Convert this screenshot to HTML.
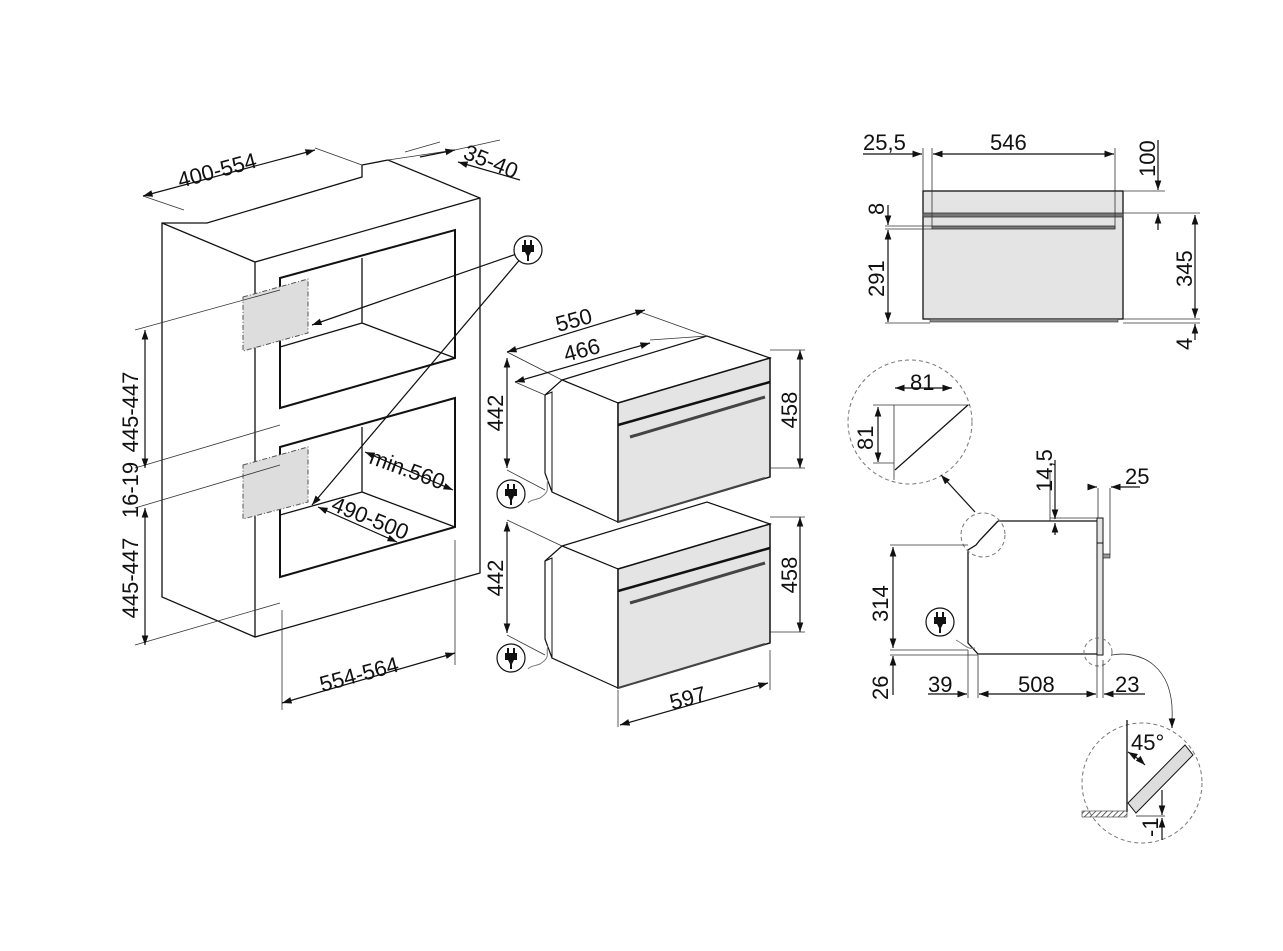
<!DOCTYPE html>
<html><head><meta charset="utf-8"><style>
html,body{margin:0;padding:0;background:#fff;}
svg{display:block;}
text{font-family:"Liberation Sans",sans-serif;font-size:22px;fill:#111;}
</style></head><body>
<svg width="1283" height="951" viewBox="0 0 1283 951" xmlns="http://www.w3.org/2000/svg">
<defs>
<marker id="a" viewBox="0 0 10 10" refX="10" refY="5" markerWidth="8" markerHeight="8" orient="auto-start-reverse"><path d="M0,1.5 L10,5 L0,8.5 z" fill="#111"/></marker>
<pattern id="h" width="4" height="4" patternUnits="userSpaceOnUse" patternTransform="rotate(45)"><line x1="0" y1="0" x2="0" y2="4" stroke="#333" stroke-width="1.5"/></pattern>
<g id="plug"><circle r="14" fill="#fff" stroke="#111" stroke-width="1.2"/><rect x="-6" y="-5" width="12" height="7" fill="#111"/><rect x="-4" y="-10" width="2" height="6" fill="#111"/><rect x="2" y="-10" width="2" height="6" fill="#111"/><path d="M-3,2 L3,2 L1,6 L1,11 L-1,11 L-1,6 z" fill="#111"/></g>
</defs>
<g fill="none" stroke="#111" stroke-width="1.3">
<path d="M162,223 L207,223 L362,177 L362,165 L388,160 L480,198 L480,573 L255,637 L162,597 Z"/>
<path d="M162,223 L255,262 L480,198 M255,262 L255,637"/>
<path d="M280,278 L455,230 L455,358 L280,408 Z" stroke-width="2"/>
<path d="M362,258 L362,323 L455,358 M280,347 L362,323"/>
<path d="M280,447 L455,398 L455,527 L280,577 Z" stroke-width="2"/>
<path d="M362,427 L362,492 L455,527 M280,515 L362,492"/>
</g>
<polygon points="243,297 308,279 308,333 243,351" fill="#ddd" stroke="#555" stroke-dasharray="5,2,1,2"/>
<polygon points="243,465 308,447 308,502 243,519" fill="#ddd" stroke="#555" stroke-dasharray="5,2,1,2"/>
<g fill="none" stroke="#333" stroke-width="0.8">
<path d="M143,196 L184,210 M315,148 L362,165 M405,152 L440,142 M388,160 L455,150 M455,150 L500,140"/>
<path d="M135,330 L280,290 M135,468 L280,425 M135,508 L280,465 M135,645 L280,603"/>
<path d="M282,610 L282,710 M455,540 L455,665"/>
<path d="M528,250 L312,505"/>
</g>
<g stroke="#111" stroke-width="1.2" fill="none">
<line x1="143" y1="196" x2="315" y2="150" marker-start="url(#a)" marker-end="url(#a)"/>
<line x1="420" y1="157" x2="455" y2="150" marker-end="url(#a)"/>
<line x1="520" y1="180" x2="458" y2="162" marker-end="url(#a)"/>
<line x1="145" y1="330" x2="145" y2="468" marker-start="url(#a)" marker-end="url(#a)"/>
<line x1="145" y1="508" x2="145" y2="645" marker-start="url(#a)" marker-end="url(#a)"/>
<line x1="282" y1="703" x2="455" y2="653" marker-start="url(#a)" marker-end="url(#a)"/>
<line x1="365" y1="452" x2="453" y2="490" marker-start="url(#a)" marker-end="url(#a)"/>
<line x1="318" y1="507" x2="397" y2="542" marker-start="url(#a)" marker-end="url(#a)"/>
<line x1="528" y1="250" x2="312" y2="325" marker-end="url(#a)"/>
<line x1="528" y1="250" x2="312" y2="505" marker-end="url(#a)"/>
</g>
<use href="#plug" x="528" y="250"/>
<text transform="translate(180,188) rotate(-15)">400-554</text>
<text transform="translate(462,158) rotate(22)">35-40</text>
<text transform="translate(138,412) rotate(-90)" text-anchor="middle">445-447</text>
<text transform="translate(138,490) rotate(-90)" text-anchor="middle">16-19</text>
<text transform="translate(138,578) rotate(-90)" text-anchor="middle">445-447</text>
<text transform="translate(368,463) rotate(20)">min.560</text>
<text transform="translate(330,510) rotate(22)">490-500</text>
<text transform="translate(322,692) rotate(-15)">554-564</text>

<g id="oven">
<polygon points="562,380 707,336 770,358 618,403" fill="#fff" stroke="#111" stroke-width="1.2"/>
<polygon points="545,395 562,380 618,403 618,522 552,492 545,473" fill="#fff" stroke="#111" stroke-width="1.2"/>
<path d="M545,395 L552,392 L552,492" fill="none" stroke="#111"/>
<polygon points="618,403 770,358 770,477 618,522" fill="#e4e4e4" stroke="#111" stroke-width="1.5"/>
<path d="M618,425 L770,382" stroke="#111" stroke-width="2.5" fill="none"/>
<path d="M630,437 L765,397" stroke="#444" stroke-width="3" fill="none"/>
<path d="M618,522 L765,478" stroke="#444" stroke-width="2" fill="none"/>
<path d="M548,480 C545,488 552,490 540,498 C535,500 530,500 528,503" stroke="#777" fill="none"/>
</g>
<use href="#oven" y="166"/>
<use href="#plug" x="511" y="494"/>
<use href="#plug" x="511" y="658"/>
<g stroke="#333" stroke-width="0.8" fill="none">
<path d="M507,352 L562,380 M515,382 L545,395 M507,470 L545,490 M507,520 L562,546 M507,635 L545,655"/>
<path d="M650,340 L707,336 M640,312 L707,336 M770,350 L805,350 M770,468 L805,468 M770,517 L805,517 M770,632 L805,632"/>
<path d="M618,690 L618,727 M770,650 L770,690"/>
</g>
<g stroke="#111" stroke-width="1.2" fill="none">
<line x1="507" y1="352" x2="645" y2="310" marker-start="url(#a)" marker-end="url(#a)"/>
<line x1="515" y1="382" x2="650" y2="343" marker-start="url(#a)" marker-end="url(#a)"/>
<line x1="507" y1="358" x2="507" y2="468" marker-start="url(#a)" marker-end="url(#a)"/>
<line x1="507" y1="522" x2="507" y2="633" marker-start="url(#a)" marker-end="url(#a)"/>
<line x1="800" y1="350" x2="800" y2="468" marker-start="url(#a)" marker-end="url(#a)"/>
<line x1="800" y1="517" x2="800" y2="632" marker-start="url(#a)" marker-end="url(#a)"/>
<line x1="620" y1="725" x2="768" y2="683" marker-start="url(#a)" marker-end="url(#a)"/>
</g>
<text transform="translate(558,332) rotate(-15)">550</text>
<text transform="translate(566,362) rotate(-15)">466</text>
<text transform="translate(503,413) rotate(-90)" text-anchor="middle">442</text>
<text transform="translate(503,578) rotate(-90)" text-anchor="middle">442</text>
<text transform="translate(797,410) rotate(-90)" text-anchor="middle">458</text>
<text transform="translate(797,575) rotate(-90)" text-anchor="middle">458</text>
<text transform="translate(672,710) rotate(-15)">597</text>

<rect x="923" y="191" width="200" height="128" fill="#e4e4e4" stroke="#111" stroke-width="1.3"/>
<rect x="923" y="213" width="200" height="4" fill="#777" stroke="#333" stroke-width="0.8"/>
<rect x="932" y="226" width="183" height="3" fill="#777" stroke="#333" stroke-width="0.8"/>
<rect x="930" y="319" width="188" height="3" fill="#888" stroke="#333" stroke-width="0.6"/>
<g stroke="#333" stroke-width="0.8" fill="none">
<path d="M923,148 L923,191 M932,148 L932,226 M1115,148 L1115,229"/>
<path d="M1123,191 L1165,191 M1123,213 L1200,213 M1123,319 L1200,319 M1123,323 L1200,323"/>
<path d="M885,226 L932,226 M885,229 L932,229 M885,323 L930,323"/>
</g>
<g stroke="#111" stroke-width="1.2" fill="none">
<line x1="863" y1="154" x2="922" y2="154" marker-end="url(#a)"/>
<line x1="933" y1="154" x2="1114" y2="154" marker-start="url(#a)" marker-end="url(#a)"/>
<line x1="1158" y1="140" x2="1158" y2="190" marker-end="url(#a)"/>
<line x1="1158" y1="230" x2="1158" y2="214" marker-end="url(#a)"/>
<line x1="1195" y1="215" x2="1195" y2="318" marker-start="url(#a)" marker-end="url(#a)"/>
<line x1="1195" y1="340" x2="1195" y2="324" marker-end="url(#a)"/>
<line x1="888" y1="205" x2="888" y2="225" marker-end="url(#a)"/>
<line x1="888" y1="230" x2="888" y2="322" marker-start="url(#a)" marker-end="url(#a)"/>
</g>
<text x="863" y="150">25,5</text>
<text x="990" y="150">546</text>
<text transform="translate(1155,177) rotate(-90)">100</text>
<text transform="translate(1192,287) rotate(-90)">345</text>
<text transform="translate(1192,350) rotate(-90)">4</text>
<text transform="translate(884,215) rotate(-90)">8</text>
<text transform="translate(884,297) rotate(-90)">291</text>

<path d="M998,521 L1100,521 M998,521 L980,540 L976,545 L968,550 L968,643 L978,654 L1100,654" fill="none" stroke="#111" stroke-width="1.3"/>
<rect x="1097" y="518" width="6" height="137" fill="#e4e4e4" stroke="#111"/>
<path d="M1097,543 L1103,543" stroke="#111"/>
<rect x="1103" y="554" width="7" height="4" fill="#999" stroke="#111" stroke-width="0.6"/>
<circle cx="983" cy="535" r="22" fill="none" stroke="#777" stroke-dasharray="4,3"/>
<circle cx="1098" cy="652" r="14" fill="none" stroke="#777" stroke-dasharray="4,3"/>
<circle cx="910" cy="422" r="62" fill="#fff" stroke="#777" stroke-dasharray="4,3"/>
<circle cx="1142" cy="783" r="60" fill="#fff" stroke="#777" stroke-dasharray="4,3"/>
<g stroke="#333" stroke-width="0.8" fill="none">
<path d="M1112,655 C1140,650 1175,665 1172,720"/>
<path d="M890,545 L968,545 M890,650 L968,650 M890,655 L978,655 M968,650 L968,698 M978,655 L978,698 M1097,655 L1097,698 M1103,660 L1103,698"/>
<path d="M1050,470 L1050,521 M1098,488 L1098,518 M1110,488 L1110,555 M1050,518 L1097,518"/>
<path d="M894,405 L894,480 M890,405 L970,405 M894,470 L894,480 M873,405 L894,405 M873,463 L894,463"/>
</g>
<path d="M968,405 L895,470" stroke="#111" stroke-width="1.2"/>
<path d="M1127,720 L1127,812" stroke="#111" stroke-width="1.3"/>
<rect x="1082" y="811" width="45" height="6" fill="url(#h)" stroke="#333" stroke-width="0.6"/>
<polygon points="1128,803 1185,745 1193,755 1136,813" fill="#ddd" stroke="#111"/>
<path d="M1136,816 L1165,816" stroke="#555"/>
<g stroke="#111" stroke-width="1.2" fill="none">
<line x1="895" y1="388" x2="952" y2="388" marker-start="url(#a)" marker-end="url(#a)"/>
<line x1="878" y1="407" x2="878" y2="462" marker-start="url(#a)" marker-end="url(#a)"/>
<line x1="1055" y1="460" x2="1055" y2="519" marker-end="url(#a)"/>
<line x1="1055" y1="535" x2="1055" y2="523" marker-end="url(#a)"/>
<line x1="1090" y1="487" x2="1097" y2="487" marker-end="url(#a)"/>
<line x1="1140" y1="487" x2="1111" y2="487" marker-end="url(#a)"/>
<line x1="893" y1="547" x2="893" y2="648" marker-start="url(#a)" marker-end="url(#a)"/>
<line x1="893" y1="695" x2="893" y2="656" marker-end="url(#a)"/>
<line x1="928" y1="694" x2="967" y2="694" marker-end="url(#a)"/>
<line x1="979" y1="694" x2="1096" y2="694" marker-start="url(#a)" marker-end="url(#a)"/>
<line x1="1145" y1="694" x2="1104" y2="694" marker-end="url(#a)"/>
<line x1="1172" y1="718" x2="1172" y2="728" marker-end="url(#a)"/>
<path d="M1128,752 Q1138,758 1145,765" marker-start="url(#a)" marker-end="url(#a)"/>
<line x1="1162" y1="790" x2="1162" y2="815" marker-end="url(#a)"/>
<line x1="1162" y1="840" x2="1162" y2="818" marker-end="url(#a)"/>
<line x1="975" y1="512" x2="941" y2="475" marker-end="url(#a)"/>
</g>
<use href="#plug" x="940" y="622"/>
<path d="M956,640 C965,645 968,650 975,648" stroke="#777" fill="none"/>
<text x="910" y="390">81</text>
<text transform="translate(873,450) rotate(-90)">81</text>
<text transform="translate(1052,492) rotate(-90)">14,5</text>
<text x="1125" y="484">25</text>
<text transform="translate(888,622) rotate(-90)">314</text>
<text transform="translate(888,700) rotate(-90)">26</text>
<text x="928" y="692">39</text>
<text x="1018" y="692">508</text>
<text x="1115" y="692">23</text>
<text x="1131" y="750">45°</text>
<text transform="translate(1158,837) rotate(-90)">-1</text>
</svg>
</body></html>
